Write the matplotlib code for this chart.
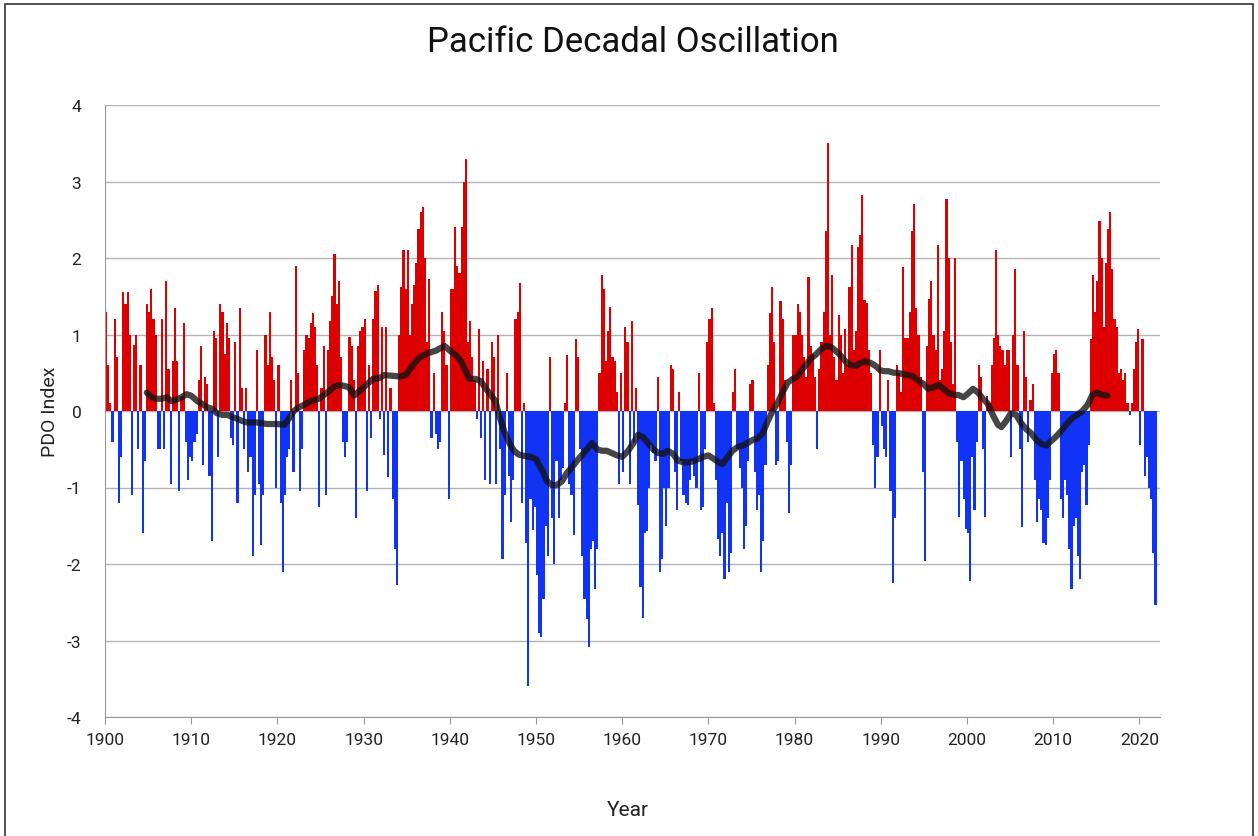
import numpy as np
import matplotlib
matplotlib.use('Agg')
import matplotlib.pyplot as plt
from matplotlib.patches import Rectangle

plt.rcParams['font.family'] = ['Roboto', 'DejaVu Sans']
plt.rcParams['axes.unicode_minus'] = False

# Quarterly PDO index values (4 per year)
pdo_1900s = [1.3, 0.6, 0.1, -0.4, 1.2, 0.7, -1.2, -0.6, 1.55, 1.4, 1.55, 1.0,
             -1.1, 0.86, 1.0, -0.5, 0.6, -1.6, -0.65, 1.4, 1.3, 1.6, 1.2, 1.0,
             -0.5, -0.5, 1.2, -0.5, 1.7, 0.55, -0.95, 0.65, 1.35, 0.65, -1.05, 0.2,
             1.15, -0.4, -0.9, -0.6]
pdo_1910s = [-0.65, -0.4, -0.3, 0.4, 0.85, -0.7, 0.45, 0.35, -0.85, -1.7, 1.05, 0.95,
             -0.6, 1.4, 1.3, 0.75, 1.15, 0.95, -0.35, -0.45, 0.9, -1.2, 1.35, 0.3,
             -0.5, 0.3, -0.8, -0.6, -1.9, -1.1, 0.8, -0.95, -1.75, -1.1, 1.0, 0.6,
             1.3, 0.7, 0.4, -1.0]
pdo_1920s = [0.6, -1.2, -2.1, -1.1, -0.6, -0.5, 0.4, -0.8, 1.9, 0.5, -1.05, -0.5,
             0.8, 1.0, 0.95, 1.15, 1.28, 1.1, 0.6, -1.25, 0.3, 0.85, -1.1, 0.8,
             1.18, 1.5, 2.05, 1.4, 1.7, 0.7, -0.4, -0.6, -0.4, 0.97, 0.85, 0.4,
             -1.4, 0.85, 1.05, 1.1]
pdo_1930s = [1.2, -1.05, 0.6, -0.35, 1.2, 1.57, 1.65, -0.1, 1.1, -0.58, 1.1, -0.86,
             0.3, -1.15, -1.8, -2.28, 1.0, 1.62, 2.1, 1.6, 2.1, 1.0, 1.4, 1.65,
             1.94, 2.38, 2.6, 2.67, 2.0, 0.9, 1.73, -0.35, 0.5, -0.3, -0.5, -0.4,
             1.3, 1.05, 0.6, -1.15]
pdo_1940s = [1.6, 1.6, 2.4, 1.9, 1.8, 2.4, 3.0, 3.3, 0.9, 1.18, 0.7, 0.4,
             -0.1, 1.07, -0.35, 0.65, -0.9, 0.55, -0.95, 0.9, 0.7, -0.95, 1.0, -0.5,
             -1.94, -1.1, 0.5, -0.85, -1.45, -0.9, 1.2, 1.3, 1.67, -1.2, 0.1, -1.73,
             -3.6, -1.15, -1.55, -1.25]
pdo_1950s = [-2.15, -2.9, -2.96, -2.46, -1.5, -1.9, 0.7, -1.4, -2.0, -0.65, -1.4, -0.9,
             -0.75, 0.1, 0.73, -0.95, -1.1, -1.62, 0.94, 0.7, -0.5, -1.9, -2.46, -2.72,
             -3.08, -1.8, -1.7, -2.33, -1.8, 0.5, 1.78, 1.6, 0.65, 1.05, 1.36, 0.7,
             0.65, 0.25, -0.95, 0.5]
pdo_1960s = [-0.8, 1.1, 0.9, -0.95, 1.18, -0.4, 0.3, -1.23, -2.3, -2.7, -1.6, -1.57,
             -1.0, -0.45, -0.55, -0.65, 0.45, -2.1, -1.94, -1.0, -1.5, -1.0, 0.6, 0.55,
             -0.8, -1.3, 0.25, -0.65, -1.1, -1.2, -1.23, -0.9, -0.65, -0.85, -1.0, 0.5,
             -1.3, -1.25, -0.5, 0.9]
pdo_1970s = [1.2, 1.35, 0.1, -0.9, -1.67, -1.9, -1.6, -2.2, -1.2, -2.1, -1.85, 0.25,
             0.55, -0.5, -0.75, -1.0, -1.8, -1.5, -0.65, 0.35, 0.4, -0.8, -1.3, -1.1,
             -2.1, -1.7, -0.7, 0.6, 1.28, 1.62, 0.9, -0.7, -0.65, 1.44, 1.2, 0.4,
             -0.4, -1.33, -0.7, 1.0]
pdo_1980s = [1.0, 1.4, 1.3, 1.0, 0.7, 0.45, 1.75, 0.85, 0.75, 0.45, -0.5, 0.55,
             0.9, 1.3, 2.35, 3.5, 1.0, 1.78, 0.7, 0.4, 1.26, 1.0, 0.5, 1.07,
             0.6, 1.62, 2.17, 0.8, 1.05, 2.15, 2.3, 2.83, 1.45, 1.41, 0.8, 0.5,
             -0.45, -1.0, -0.6, 0.8]
pdo_1990s = [-0.2, -0.5, -0.6, 0.4, -1.05, -2.25, -1.4, 0.6, 0.5, 0.25, 1.88, 0.95,
             0.95, 1.3, 2.35, 2.7, 1.35, 1.0, 0.45, -0.8, -1.96, 0.85, 1.47, 1.7,
             1.0, 0.8, 2.17, 0.4, 0.55, 1.05, 2.77, 2.0, 0.9, 0.35, 2.0, -0.4,
             -1.38, -0.65, -1.15, -1.54]
pdo_2000s = [-1.6, -2.22, -0.6, -1.3, -0.4, 0.6, 0.45, -0.5, -1.38, 0.2, 0.1, 0.6,
             0.95, 2.1, 1.0, 0.85, 0.8, 0.6, 0.8, 0.8, -0.6, 1.0, 1.86, 0.6,
             -0.5, -1.52, 1.05, 0.45, -0.4, 0.15, 0.35, -0.9, -1.45, -1.15, -1.3, -1.73,
             -1.75, -1.4, -0.9, 0.5]
pdo_2010s = [0.75, 0.8, 0.5, -1.15, -1.4, -0.9, -1.1, -1.8, -2.33, -1.5, -1.4, -1.9,
             -2.2, -0.8, -0.7, -1.23, -0.45, 0.94, 1.78, 1.3, 1.7, 2.49, 2.0, 1.1,
             1.94, 2.38, 2.6, 1.86, 1.2, 1.1, 0.5, 0.55, 0.4, 0.5, 0.1, -0.05,
             0.1, 0.55, 0.9, 1.07]
pdo_2020s = [-0.45, 0.94, -0.85, -0.6, -1.0, -1.15, -1.86, -2.54]

# Moving-average line
ma_years = [1904.85, 1905.4, 1906.0, 1906.6, 1907.15, 1907.7, 1908.3, 1908.9, 1909.45, 1910.0,
            1910.7, 1911.3, 1911.85, 1912.4, 1913.0, 1913.6, 1914.2, 1914.75, 1915.3, 1915.9,
            1916.5, 1917.1, 1917.65, 1918.2, 1918.8, 1919.4, 1920.0, 1920.8, 1921.35, 1921.9,
            1922.5, 1923.1, 1923.7, 1924.25, 1924.8, 1925.4, 1926.0, 1926.6, 1927.15, 1927.7,
            1928.3, 1928.9, 1929.4, 1930.0, 1930.6, 1931.1, 1931.85, 1932.4, 1933.4, 1934.2,
            1934.9, 1935.7, 1936.5, 1937.3, 1938.4, 1939.4, 1940.1, 1940.7, 1941.3, 1941.85,
            1942.25, 1943.0, 1943.6, 1944.2, 1944.75, 1945.3, 1945.7, 1946.3, 1946.9, 1947.45,
            1948.0, 1948.8, 1949.4, 1950.0, 1950.7, 1951.3, 1951.85, 1952.4, 1953.0, 1953.6,
            1954.2, 1954.75, 1955.3, 1955.9, 1956.5, 1957.1, 1957.65, 1958.2, 1958.8, 1959.4,
            1960.0, 1960.7, 1961.3, 1961.85, 1962.4, 1963.0, 1963.6, 1964.2, 1964.75, 1965.3,
            1965.9, 1966.5, 1967.1, 1967.65, 1968.2, 1968.8, 1969.4, 1970.0, 1970.7, 1971.3,
            1971.65, 1972.25, 1972.8, 1973.4, 1974.0, 1974.55, 1975.1, 1975.7, 1976.3, 1976.9,
            1977.45, 1978.0, 1978.6, 1979.2, 1979.8, 1980.3, 1980.7, 1981.3, 1981.85, 1982.4,
            1983.0, 1983.6, 1984.2, 1984.75, 1985.3, 1985.9, 1986.5, 1987.1, 1987.65, 1988.2,
            1988.8, 1989.4, 1989.95, 1990.5, 1990.9, 1991.5, 1992.0, 1992.6, 1993.2, 1993.8,
            1994.4, 1994.9, 1995.5, 1996.1, 1996.7, 1997.3, 1997.8, 1998.4, 1999.0, 1999.6,
            2000.15, 2000.7, 2001.3, 2001.85, 2002.4, 2003.0, 2003.6, 2004.0, 2004.55, 2005.1,
            2005.7, 2006.3, 2006.9, 2007.45, 2008.0, 2008.6, 2009.2, 2009.8, 2010.3, 2011.1,
            2011.65, 2012.25, 2012.8, 2013.4, 2014.0, 2014.55, 2015.1, 2015.7, 2016.3]
ma_values = [0.24, 0.18, 0.16, 0.16, 0.18, 0.13, 0.15, 0.18, 0.22, 0.20,
             0.13, 0.09, 0.05, 0.03, -0.03, -0.05, -0.05, -0.08, -0.10, -0.13,
             -0.15, -0.15, -0.15, -0.16, -0.17, -0.17, -0.17, -0.18, -0.10, 0.00,
             0.05, 0.08, 0.12, 0.14, 0.16, 0.21, 0.26, 0.32, 0.34, 0.33,
             0.31, 0.20, 0.25, 0.31, 0.37, 0.42, 0.43, 0.47, 0.46, 0.45,
             0.47, 0.60, 0.70, 0.75, 0.79, 0.85, 0.78, 0.73, 0.65, 0.52,
             0.42, 0.42, 0.39, 0.29, 0.21, 0.13, -0.05, -0.26, -0.42, -0.52,
             -0.57, -0.59, -0.60, -0.63, -0.77, -0.92, -0.97, -0.97, -0.92, -0.81,
             -0.73, -0.65, -0.58, -0.50, -0.42, -0.50, -0.52, -0.52, -0.55, -0.58,
             -0.60, -0.52, -0.42, -0.31, -0.34, -0.42, -0.50, -0.55, -0.56, -0.52,
             -0.56, -0.65, -0.67, -0.67, -0.66, -0.63, -0.60, -0.58, -0.63, -0.68,
             -0.69, -0.60, -0.52, -0.47, -0.45, -0.42, -0.38, -0.36, -0.29, -0.13,
             0.00, 0.10, 0.24, 0.37, 0.42, 0.45, 0.52, 0.60, 0.68, 0.73,
             0.80, 0.85, 0.84, 0.79, 0.73, 0.65, 0.60, 0.59, 0.63, 0.65,
             0.63, 0.59, 0.53, 0.52, 0.52, 0.50, 0.50, 0.48, 0.47, 0.45,
             0.39, 0.36, 0.29, 0.31, 0.34, 0.29, 0.24, 0.21, 0.21, 0.18,
             0.23, 0.29, 0.24, 0.16, 0.10, -0.05, -0.18, -0.21, -0.13, -0.03,
             -0.05, -0.16, -0.24, -0.29, -0.37, -0.43, -0.45, -0.39, -0.34, -0.24,
             -0.16, -0.09, -0.05, 0.00, 0.08, 0.21, 0.24, 0.21, 0.20]

steps_per_year = 4
start_year = 1900
values = np.array(pdo_1900s + pdo_1910s + pdo_1920s + pdo_1930s + pdo_1940s +
                  pdo_1950s + pdo_1960s + pdo_1970s + pdo_1980s + pdo_1990s +
                  pdo_2000s + pdo_2010s + pdo_2020s)
x = start_year + np.arange(len(values)) / steps_per_year
colors = np.where(values >= 0, '#dd0000', '#1133f5')

W, H = 1258, 837
fig = plt.figure(figsize=(W / 100, H / 100), dpi=100)
fig.patch.set_facecolor('white')
ax = fig.add_axes([105 / W, 1 - 718 / H, (1160 - 105) / W, (718 - 106) / H])

ax.bar(x, values, width=1 / steps_per_year, align='edge', color=colors,
       linewidth=0, zorder=2)
ax.plot(ma_years, ma_values, color='#111111', alpha=0.78, lw=4.5,
        solid_capstyle='round', solid_joinstyle='round', zorder=3)

ax.set_xlim(1900, 2022.4)
ax.set_ylim(-4, 4)
ax.set_yticks(range(-4, 5))
ax.set_xticks(range(1900, 2021, 10))
ax.grid(axis='y', color='#b3b3b3', lw=1.0)
ax.set_axisbelow(True)
for s in ['top', 'right']:
    ax.spines[s].set_visible(False)
ax.spines['left'].set_color('#999999')
ax.spines['bottom'].set_color('#999999')
ax.tick_params(axis='y', length=0, labelsize=12.5, pad=17, labelcolor='#222222')
ax.tick_params(axis='x', length=5, color='#999999', labelsize=12.5, pad=6,
               labelcolor='#222222')

fig.text(0.503, 1 - 43 / H, 'Pacific Decadal Oscillation', ha='center', va='center',
         fontsize=25, color='#111111')
fig.text(50 / W, 1 - 412 / H, 'PDO Index', rotation=90, ha='center', va='center',
         fontsize=14, color='#222222')
fig.text(628 / W, 1 - 811 / H, 'Year', ha='center', va='center',
         fontsize=15, color='#222222')

fig.add_artist(Rectangle((5 / W, -0.02), (1253 - 5) / W, 1.02 - 5 / H,
                         transform=fig.transFigure, fill=False,
                         edgecolor='#333333', lw=1.2))

fig.savefig('out.png', dpi=100)
